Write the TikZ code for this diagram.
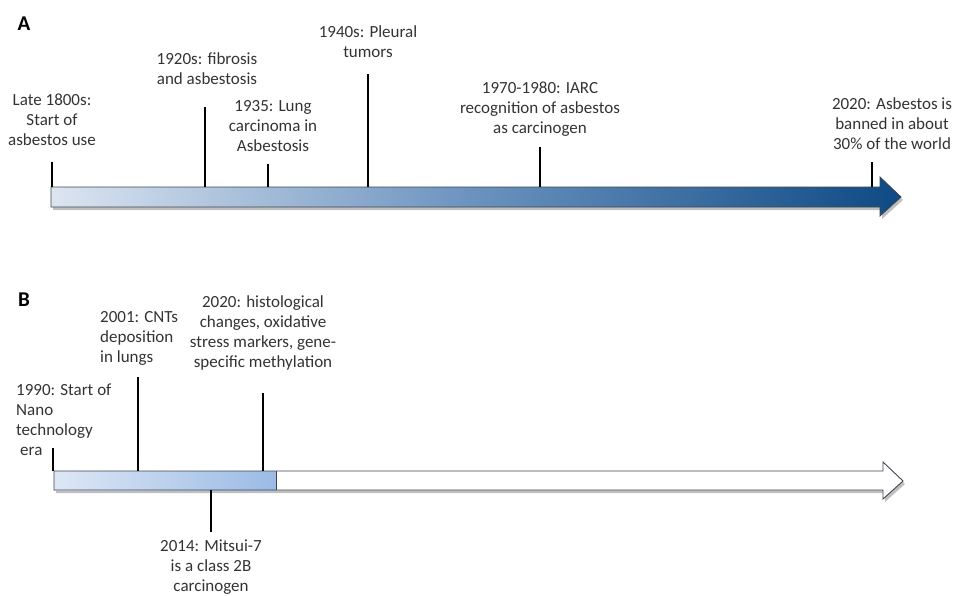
\documentclass[tikz,border=0pt]{standalone}
\usepackage{fontspec}
\setmainfont{Carlito}
\definecolor{txt}{HTML}{333333}
\definecolor{alight}{HTML}{DCE5F1}
\definecolor{amid}{HTML}{6A92BE}
\definecolor{adark}{HTML}{0E4A84}
\definecolor{blight}{HTML}{DDE7F5}
\definecolor{bdark}{HTML}{9BBBE5}
\definecolor{edge}{HTML}{3F4650}
\tikzset{
  lbl/.style={font=\fontsize{17}{20}\selectfont, text=txt, inner sep=0pt, align=center, anchor=north},
  lbll/.style={lbl, align=left, anchor=north west},
  panel/.style={font=\fontsize{21}{24}\selectfont\bfseries, text=black, inner sep=0pt},
  tickline/.style={line width=1.5pt, black},
  shadowpath/.style={fill=black, opacity=0.25},
}
\begin{document}
\begin{tikzpicture}[x=1pt,y=-1pt]
\useasboundingbox (0,0) rectangle (957,596);

% ---------- Panel A ----------
\node[panel] (pA) at (24,24) {A};
% shadow
\fill[shadowpath, shift={(2,3)}] (51,187) -- (880,187) -- (880,177) -- (901,197) -- (880,216) -- (880,207) -- (51,207) -- cycle;
\shade[left color=alight, right color=adark, middle color=amid, draw=edge, line width=0.8pt]
  (51,187) -- (880,187) -- (880,177) -- (901,197) -- (880,216) -- (880,207) -- (51,207) -- cycle;

\foreach \n/\x/\t in {a1/52/162, a2/205/107, a3/268/164, a4/368/74, a5/540/147, a6/872/162}{
  \coordinate (\n b) at (\x,187);
  \coordinate (\n t) at (\x,\t);
  \draw[tickline] (\n b) -- (\n t);
}

\node[lbl] (la1) at (52,94) {Late 1800s:\\Start of\\asbestos use};
\node[lbl] (la2) at (207,52) {1920s: fibrosis\\and asbestosis};
\node[lbl] (la3) at (273,100) {1935: Lung\\carcinoma in\\Asbestosis};
\node[lbl] (la4) at (368,25) {1940s: Pleural\\tumors};
\node[lbl] (la5) at (540,82) {1970-1980: IARC\\recognition of asbestos\\as carcinogen};
\node[lbl] (la6) at (892,97) {2020: Asbestos is\\banned in about\\30\% of the world};

% ---------- Panel B ----------
\node[panel] (pB) at (24,300) {B};
\fill[shadowpath, shift={(2,3)}] (54,471) -- (883,471) -- (883,462) -- (903,481) -- (883,499) -- (883,490) -- (54,490) -- cycle;
\fill[white] (54,471) -- (883,471) -- (883,462) -- (903,481) -- (883,499) -- (883,490) -- (54,490) -- cycle;
\shade[left color=blight, right color=bdark] (54,471) rectangle (276,490);
\draw[edge, line width=0.9pt] (54,471) -- (883,471) -- (883,462) -- (903,481) -- (883,499) -- (883,490) -- (54,490) -- cycle;
\draw[edge, line width=0.9pt] (276,471) -- (276,490);

\foreach \n/\x/\t in {b1/53/448, b2/138/377, b3/263/393}{
  \coordinate (\n b) at (\x,471);
  \coordinate (\n t) at (\x,\t);
  \draw[tickline] (\n b) -- (\n t);
}
\coordinate (b4b) at (211,490);
\coordinate (b4t) at (211,532);
\draw[tickline] (b4b) -- (b4t);

\node[lbll] (lb1) at (16,384) {1990: Start of\\Nano\\technology\\\hspace*{4pt}era};
\node[lbll] (lb2) at (100,311) {2001: CNTs\\deposition\\in lungs};
\node[lbl] (lb3) at (263,295) {2020: histological\\changes, oxidative\\stress markers, gene-\\specific methylation};
\node[lbl] (lb4) at (211,540) {2014: Mitsui-7\\is a class 2B\\carcinogen};
\end{tikzpicture}
\end{document}
